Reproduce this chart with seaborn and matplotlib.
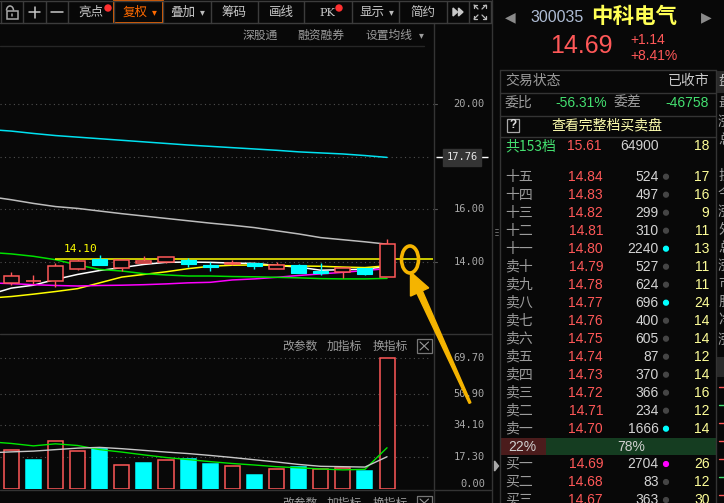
import numpy as np
import pandas as pd
import seaborn as sns
import matplotlib.pyplot as plt
from matplotlib import transforms
from matplotlib.patches import Rectangle, Ellipse, Polygon, Circle, Arc

# ---- 日K数据（从截图读取）----
days = list(range(18))
opens = [13.18, 13.27, 13.26, 13.74, 14.09, 13.78, 13.97, 13.98, 14.08, 13.89,
         13.90, 13.94, 13.74, 13.87, 13.64, 13.61, 13.75, 13.43]
closes = [13.46, 13.27, 13.84, 14.03, 13.89, 14.06, 14.02, 14.17, 13.90, 13.80,
          13.94, 13.83, 13.88, 13.59, 13.59, 13.75, 13.55, 14.69]
highs = [13.61, 13.51, 13.94, 14.10, 14.26, 14.06, 14.22, 14.19, 14.14, 13.98,
         14.07, 13.96, 14.00, 13.90, 13.95, 13.76, 13.77, 14.87]
lows = [13.11, 13.14, 13.05, 13.69, 13.89, 13.66, 13.94, 13.96, 13.79, 13.64,
        13.89, 13.73, 13.74, 13.58, 13.50, 13.40, 13.49, 13.43]

# 均线（第一个值是屏幕左侧外的前一天）
ma_days = list(range(-1, 18))
ma5 = [12.75, 13.00, 13.11, 13.33, 13.52, 13.67, 13.78, 13.90, 13.98, 13.99,
       13.98, 13.95, 13.94, 13.86, 13.80, 13.68, 13.70, 13.72, 13.82]
ma10 = [12.62, 12.68, 12.77, 12.87, 12.98, 13.20, 13.42, 13.52, 13.62, 13.74,
        13.83, 13.87, 13.88, 13.86, 13.84, 13.83, 13.80, 13.78, 13.85]
ma20 = [13.20, 13.17, 13.13, 13.10, 13.08, 13.10, 13.11, 13.13, 13.16, 13.20,
        13.22, 13.31, 13.35, 13.41, 13.48, 13.54, 13.60, 13.67, 13.74]
ma60 = [14.36, 14.30, 14.21, 14.08, 13.88, 13.71, 13.65, 13.55, 13.50, 13.46,
        13.46, 13.44, 13.43, 13.41, 13.39, 13.36, 13.35, 13.35, 13.37]
ma120 = [16.48, 16.36, 16.22, 16.10, 16.03, 15.93, 15.83, 15.74, 15.65, 15.56,
         15.47, 15.39, 15.30, 15.18, 15.06, 14.92, 14.84, 14.76, 14.67]
ma250 = [19.03, 18.97, 18.88, 18.80, 18.74, 18.68, 18.62, 18.56, 18.50, 18.44,
         18.39, 18.34, 18.29, 18.24, 18.18, 18.14, 18.10, 18.04, 17.97]
high_mark = 14.10
ma250_label = '17.76'

# 成交量（万手）
vols = [20.6, 15.5, 25.4, 20.1, 21.3, 12.6, 13.9, 15.3, 15.8, 13.3,
        12.1, 7.5, 10.5, 11.7, 10.5, 11.0, 9.6, 69.7]
vol_dir = ['up', 'down', 'up', 'up', 'down', 'up', 'down', 'up', 'down', 'down',
           'up', 'down', 'up', 'down', 'up', 'up', 'down', 'up']
vol_ma5 = [25.2, 24.3, 23.0, 24.1, 23.2, 21.0, 19.7, 18.2, 16.8, 15.7,
           14.6, 13.6, 12.8, 11.9, 11.3, 10.7, 10.2, 10.5, 22.0]
vol_ma10 = [19.3, 19.8, 20.2, 21.0, 21.8, 22.2, 21.5, 20.6, 19.7, 18.9,
            17.9, 16.8, 15.6, 14.4, 13.1, 12.1, 11.9, 11.7, 17.2]
price_ticks = [20.00, 16.00, 14.00]
vol_ticks = [69.70, 50.90, 34.10, 17.30]

# 盘口
sell_labels = ['十五', '十四', '十三', '十二', '十一', '卖十', '卖九', '卖八', '卖七',
               '卖六', '卖五', '卖四', '卖三', '卖二', '卖一']
sell_prices = [14.84, 14.83, 14.82, 14.81, 14.80, 14.79, 14.78, 14.77, 14.76,
               14.75, 14.74, 14.73, 14.72, 14.71, 14.70]
sell_vols = [524, 497, 299, 310, 2240, 527, 624, 696, 400, 605, 87, 370, 366, 234, 1666]
sell_counts = [17, 16, 9, 11, 13, 11, 11, 24, 14, 14, 12, 14, 16, 12, 14]
sell_marks = ['', '', '', '', 'c', '', '', 'c', '', '', '', '', '', '', 'c']
buy_labels = ['买一', '买二', '买三']
buy_prices = [14.69, 14.68, 14.67]
buy_vols = [2704, 83, 363]
buy_counts = [26, 12, 30]
buy_marks = ['m', '', '']

BG = '#080808'
RED = '#FF5858'
CYAN = '#00FFFF'
LINE = '#343434'
GRID = '#4f4f4f'
TXT = '#9c9c9c'
GOLD = '#F5B400'
NUM = ['Liberation Sans', 'DejaVu Sans']
MONO = ['DejaVu Sans Mono']

sns.set_theme(style='dark', rc={'axes.facecolor': BG, 'figure.facecolor': BG})
plt.rcParams['font.family'] = ['Noto Sans CJK SC', 'DejaVu Sans']

W, H = 724, 503
fig = plt.figure(figsize=(W / 100, H / 100), dpi=100)
fig.set_facecolor(BG)


def fr(x0, y0, x1, y1):
    return [x0 / W, 1 - y1 / H, (x1 - x0) / W, (y1 - y0) / H]


ax = fig.add_axes(fr(0, 46, 433, 334))
axv = fig.add_axes(fr(0, 334, 433, 489))
XL = (-0.511, 19.08)
for a in (ax, axv):
    a.set_facecolor(BG)
    a.set_xlim(*XL)
    a.set_xticks([])
    a.set_yticks([])
    for s in a.spines.values():
        s.set_visible(False)
ax.set_ylim(11.255, 22.205)
axv.set_ylim(0, 82.67)

# ---- 主图 ----
for lv in price_ticks + [ma250[-1]]:
    ax.axhline(lv, xmax=0.993, color=GRID, lw=0.8, ls=(0, (1, 3)), zorder=0)

ma_df = pd.DataFrame({
    'day': ma_days * 6,
    'price': ma5 + ma10 + ma20 + ma60 + ma120 + ma250,
    'line': ['MA5'] * 19 + ['MA10'] * 19 + ['MA20'] * 19 + ['MA60'] * 19
            + ['MA120'] * 19 + ['MA250'] * 19,
})
pal = {'MA5': '#FFFFFF', 'MA10': '#FFFF00', 'MA20': '#FF00FF', 'MA60': '#00E000',
       'MA120': '#BDBDBD', 'MA250': '#00E1F0'}
sns.lineplot(data=ma_df, x='day', y='price', hue='line', palette=pal, lw=1.1,
             estimator=None, sort=False, legend=False, ax=ax, zorder=2)

ax.hlines(high_mark, 2, XL[1], color='#FFFF00', lw=1.1, zorder=3)

bw = 0.68
for d, o, c, h, l in zip(days, opens, closes, highs, lows):
    top, bot = max(o, c), min(o, c)
    if c >= o:
        ax.vlines(d, top, h, color=RED, lw=1, zorder=4)
        ax.vlines(d, l, bot, color=RED, lw=1, zorder=4)
        if top - bot < 0.01:
            ax.hlines(top, d - bw / 2, d + bw / 2, color=RED, lw=1.2, zorder=4)
        else:
            ax.add_patch(Rectangle((d - bw / 2, bot), bw, top - bot, fc=BG,
                                   ec=RED, lw=1.1, zorder=4))
    else:
        ax.vlines(d, l, h, color=CYAN, lw=1, zorder=4)
        ax.add_patch(Rectangle((d - bw / 2, bot), bw, max(top - bot, 0.03),
                               fc=CYAN, ec=CYAN, lw=0.8, zorder=4))

ax.annotate('%.2f' % high_mark, xy=(3, high_mark), xytext=(2, 4),
            textcoords='offset points', ha='center', va='bottom',
            color='#FFFF00', fontsize=8, family=MONO)

# ---- 成交量 ----
for lv in vol_ticks:
    axv.axhline(lv, xmax=0.993, color=GRID, lw=0.8, ls=(0, (1, 3)), zorder=0)
fcs = [BG if s == 'up' else CYAN for s in vol_dir]
ecs = [RED if s == 'up' else CYAN for s in vol_dir]
axv.bar(days, vols, width=bw, color=fcs, edgecolor=ecs, lw=1.1, zorder=2)
vol_df = pd.DataFrame({'day': ma_days * 2, 'vol': vol_ma5 + vol_ma10,
                       'line': ['MA5'] * 19 + ['MA10'] * 19})
sns.lineplot(data=vol_df, x='day', y='vol', hue='line',
             palette={'MA5': '#00E600', 'MA10': '#C8C8C8'}, lw=1.0,
             estimator=None, sort=False, legend=False, ax=axv, zorder=3)

# ---- 界面层（像素坐标）----
ui = fig.add_axes([0, 0, 1, 1], facecolor='none')
ui.set_xlim(0, W)
ui.set_ylim(H, 0)
ui.axis('off')

bp = transforms.blended_transform_factory(ui.transData, ax.transData)
bv = transforms.blended_transform_factory(ui.transData, axv.transData)
for lv in price_ticks:
    ui.text(485, lv, '%.2f' % lv, transform=bp, ha='right', va='center',
            color='#a8a8a8', fontsize=7.5, family=MONO)
    ui.plot([433, 437], [lv, lv], transform=bp, color='#555', lw=0.8)
ui.add_patch(Rectangle((436, ma250[-1]), 52, 0, transform=bp))
ui.text(462, ma250[-1], ma250_label, transform=bp, ha='center', va='center',
        color='#e6e6e6', fontsize=7.5, family=MONO,
        bbox=dict(boxstyle='square,pad=0.35', fc='#343434', ec='#343434'))
for lv in vol_ticks:
    ui.text(485, lv, '%.2f' % lv, transform=bv, ha='right', va='center',
            color='#a8a8a8', fontsize=7.5, family=MONO)
ui.text(485, 0, '0.00', transform=bv, ha='right', va='bottom',
        color='#a8a8a8', fontsize=7.5, family=MONO)

# 分隔线
for y in (334, 490):
    ui.plot([0, 491], [y, y], color=LINE, lw=1)
ui.plot([0, 424], [46, 46], color='#262626', lw=1)
ui.plot([433.5, 433.5], [23, H], color=LINE, lw=1)
ui.plot([491.5, 491.5], [0, H], color=LINE, lw=1)
ui.plot([500, 500], [70, H], color=LINE, lw=1)
ui.plot([715.5, 715.5], [70, H], color=LINE, lw=1)

# 工具栏
ui.plot([0, 491], [0.5, 0.5], color='#3c3c3c', lw=1)
ui.plot([0, 491], [22.5, 22.5], color='#3c3c3c', lw=1)
for x in [0.5, 22.7, 45.7, 68.3, 114, 162.7, 210.7, 257.7, 304.3, 351.7, 399.3,
          446.7, 469, 490.7]:
    ui.plot([x, x], [0.5, 22.5], color='#3c3c3c', lw=1)
ui.add_patch(Rectangle((114, 0.5), 48.7, 22, fc='none', ec='#FF6A00', lw=1.3))
tb = '#c8c8c8'
ui.add_patch(Rectangle((6.5, 11), 11, 8, fc='none', ec='#aaa', lw=1.1))
ui.add_patch(Arc((10, 10.5), 7, 9, theta1=180, theta2=360, ec='#aaa', lw=1.1))
ui.plot([12, 12], [14, 16], color='#aaa', lw=1.1)
ui.plot([29, 40], [12, 12], color=tb, lw=1.1)
ui.plot([34.5, 34.5], [6.5, 17.5], color=tb, lw=1.1)
ui.plot([51, 63], [12, 12], color=tb, lw=1.1)
ui.text(90.5, 12, '亮点', ha='center', va='center', color=tb, fontsize=9)
ui.add_patch(Circle((108, 8), 3, color='#FF3030'))
ui.text(135, 12, '复权', ha='center', va='center', color='#FF6A00', fontsize=9)
ui.text(154, 12, '▾', ha='center', va='center', color='#FF6A00', fontsize=7,
        family=['DejaVu Sans'])
ui.text(182.5, 12, '叠加', ha='center', va='center', color=tb, fontsize=9)
ui.text(202, 12, '▾', ha='center', va='center', color='#bbb', fontsize=7,
        family=['DejaVu Sans'])
ui.text(234, 12, '筹码', ha='center', va='center', color=tb, fontsize=9)
ui.text(281, 12, '画线', ha='center', va='center', color=tb, fontsize=9)
ui.text(327, 12.5, 'PK', ha='center', va='center', color=tb, fontsize=8,
        family=['DejaVu Serif'])
ui.add_patch(Circle((339, 8), 3, color='#FF3030'))
ui.text(371.5, 12, '显示', ha='center', va='center', color=tb, fontsize=9)
ui.text(391, 12, '▾', ha='center', va='center', color='#bbb', fontsize=7,
        family=['DejaVu Sans'])
ui.text(423, 12, '简约', ha='center', va='center', color=tb, fontsize=9)
for x0 in (453, 458.5):
    ui.add_patch(Polygon([(x0, 8), (x0 + 4.5, 12), (x0, 16)], color='#c8c8c8'))
for (cx, cy, dx, dy) in [(474, 5, 1, 1), (486, 5, -1, 1), (474, 19, 1, -1),
                         (486, 19, -1, -1)]:
    ui.plot([cx, cx + 4 * dx], [cy, cy + 4 * dy], color='#bbb', lw=0.9)
    ui.plot([cx, cx + 3 * dx], [cy, cy], color='#bbb', lw=0.9)
    ui.plot([cx, cx], [cy, cy + 3 * dy], color='#bbb', lw=0.9)

ui.text(260.5, 35.5, '深股通', ha='center', va='center', color=TXT, fontsize=8.5)
ui.text(321, 35.5, '融资融券', ha='center', va='center', color=TXT, fontsize=8.5)
ui.text(389.5, 35.5, '设置均线', ha='center', va='center', color=TXT, fontsize=8.5)
ui.text(421, 35.5, '▾', ha='center', va='center', color=TXT, fontsize=7,
        family=['DejaVu Sans'])

# 副图标题
for yy in (346, 503):
    ui.text(299.5, yy, '改参数', ha='center', va='center', color=TXT, fontsize=8.5)
    ui.text(344, yy, '加指标', ha='center', va='center', color=TXT, fontsize=8.5)
    ui.text(390, yy, '换指标', ha='center', va='center', color=TXT, fontsize=8.5)
    ui.add_patch(Rectangle((417, yy - 7), 14.5, 14, fc='none', ec='#777', lw=0.9))
    ui.plot([420, 428.5], [yy - 4, yy + 4], color='#999', lw=0.8)
    ui.plot([420, 428.5], [yy + 4, yy - 4], color='#999', lw=0.8)

# ---- 右侧报价 ----
ui.text(510, 17, '◀', ha='center', va='center', color='#8a8a8a', fontsize=10,
        family=['DejaVu Sans'])
ui.text(706, 17, '▶', ha='center', va='center', color='#8a8a8a', fontsize=10,
        family=['DejaVu Sans'])
ui.text(557.5, 17, '300035', ha='center', va='center', color='#AEBCD4',
        fontsize=11.5, family=NUM)
ui.text(634.5, 16, '中科电气', ha='center', va='center', color='#FFFF55',
        fontsize=15.5, fontweight='bold')
ui.text(581.5, 46, '14.69', ha='center', va='center', color=RED, fontsize=18,
        family=NUM)
ui.text(630, 39.5, '+1.14', ha='left', va='center', color=RED, fontsize=10, family=NUM)
ui.text(630, 56, '+8.41%', ha='left', va='center', color=RED, fontsize=10, family=NUM)
for y in (70, 93.3, 116, 136.7):
    ui.plot([500, 716], [y, y], color=LINE, lw=1)
ui.text(505, 81, '交易状态', ha='left', va='center', color=TXT, fontsize=10)
ui.text(709, 81, '已收市', ha='right', va='center', color='#c8c8c8', fontsize=10)
GREEN = '#44E070'
ui.text(505, 103, '委比', ha='left', va='center', color=TXT, fontsize=10)
ui.text(607, 103, '-56.31%', ha='right', va='center', color=GREEN, fontsize=10, family=NUM)
ui.text(614, 103, '委差', ha='left', va='center', color=TXT, fontsize=10)
ui.text(709, 103, '-46758', ha='right', va='center', color=GREEN, fontsize=10, family=NUM)
ui.add_patch(Rectangle((507, 118.5), 12, 13, fc='none', ec='#aaa', lw=0.9))
ui.text(513, 125, '?', ha='center', va='center', color='#e0e0e0', fontsize=8.5,
        fontweight='bold', family=NUM)
ui.text(606.5, 125, '查看完整档买卖盘', ha='center', va='center', color='#FFFFB0',
        fontsize=10)
ui.text(505, 146, '共153档', ha='left', va='center', color=GREEN, fontsize=10)
ui.text(601, 146, '15.61', ha='right', va='center', color=RED, fontsize=10, family=NUM)
ui.text(659, 146, '64900', ha='right', va='center', color='#d0d0d0', fontsize=10, family=NUM)
ui.text(709, 146, '18', ha='right', va='center', color='#FFFF99', fontsize=10, family=NUM)

mark_col = {'': '#454545', 'c': CYAN, 'm': '#FF00FF'}


def book_row(y, lab, p, v, n, mk):
    ui.text(505, y, lab, ha='left', va='center', color=TXT, fontsize=10)
    ui.text(603, y, '%.2f' % p, ha='right', va='center', color=RED, fontsize=10, family=NUM)
    ui.text(658.5, y, str(v), ha='right', va='center', color='#d4d4d4', fontsize=10, family=NUM)
    ui.add_patch(Circle((666, y), 2.4, color=mark_col[mk]))
    ui.text(709.5, y, str(n), ha='right', va='center', color='#FFFF99', fontsize=10, family=NUM)


for k, row in enumerate(zip(sell_labels, sell_prices, sell_vols, sell_counts, sell_marks)):
    book_row(176.7 + 18 * k, *row)
for k, row in enumerate(zip(buy_labels, buy_prices, buy_vols, buy_counts, buy_marks)):
    book_row(464 + 18 * k, *row)

ui.add_patch(Rectangle((500.5, 438.3), 45.5, 16.7, fc='#4b1c1c', ec='none'))
ui.add_patch(Rectangle((546, 438.3), 169.5, 16.7, fc='#153d21', ec='none'))
ui.text(522.5, 447, '22%', ha='center', va='center', color='#d0d0d0', fontsize=10, family=NUM)
ui.text(631, 447, '78%', ha='center', va='center', color='#d0d0d0', fontsize=10, family=NUM)

# 最右侧被截断的栏
ui.add_patch(Rectangle((716, 71), 8, 22, fc='#2a2a2a', ec='none'))
for y, ch, col in [(81, '盘', '#bbb'), (103, '最', TXT), (122, '涨', TXT),
                   (140, '总', TXT), (176, '振', TXT), (194, '今', TXT),
                   (212, '涨', TXT), (230, '外', TXT), (248, '总', TXT),
                   (266, '涨', TXT), (284, '市', TXT), (302, '股', TXT),
                   (320, '净', TXT), (340, '涨', TXT)]:
    ui.text(718, y, ch, ha='left', va='center', color=col, fontsize=10)
ui.add_patch(Rectangle((716, 357), 8, 20, fc='#2a2a2a', ec='none'))
for y, col in [(387, RED), (405, GREEN), (423, RED), (441, RED), (459, RED),
               (477, GREEN), (495, RED)]:
    ui.plot([719, 724], [y, y], color=col, lw=1)
for y in (229, 232, 235):
    ui.plot([495, 498], [y, y], color='#777', lw=0.6)
ui.add_patch(Polygon([(494.5, 461), (498.5, 466), (494.5, 471)], color='#aaa'))

# 标注
ui.add_patch(Ellipse((410, 259.5), 17, 27, fc='none', ec=GOLD, lw=2.6, zorder=10))
ui.add_patch(Polygon([(410.5, 272), (428.7, 287.9), (422.3, 290.8), (470.9, 402.6),
                      (469.1, 403.4), (416.9, 293.2), (410.5, 296.1)],
                     color=GOLD, zorder=10))

fig.savefig('out.png', dpi=100, facecolor=BG)
